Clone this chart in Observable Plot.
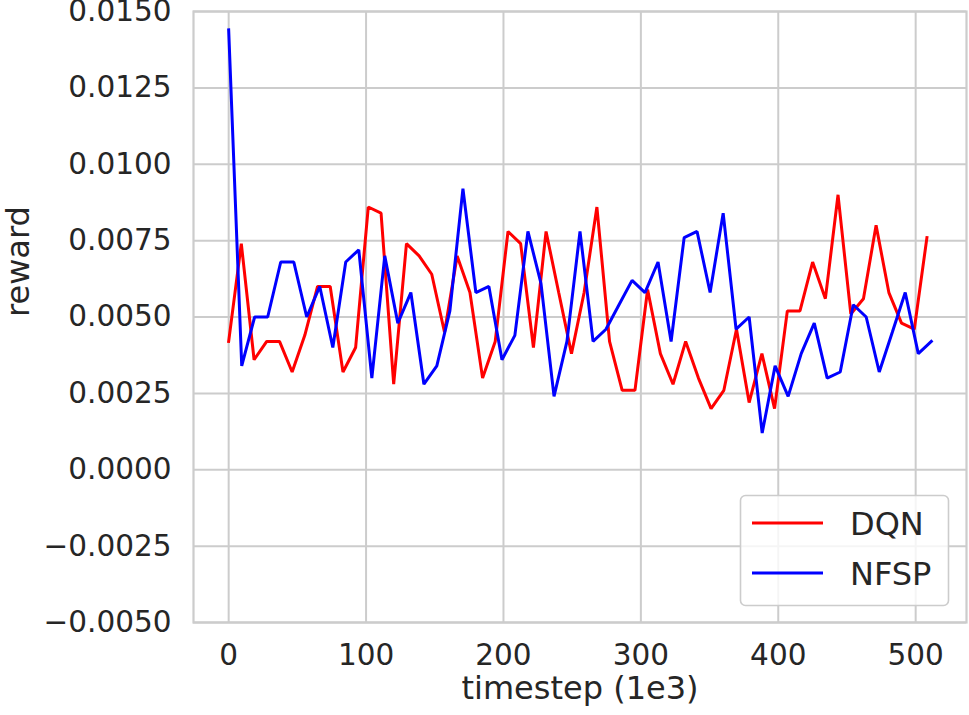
<!DOCTYPE html>
<html>
<head>
<meta charset="utf-8">
<script src="https://cdn.jsdelivr.net/npm/d3@7"></script>
<script src="https://cdn.jsdelivr.net/npm/@observablehq/plot@0.6"></script>
<style>
  html, body { margin: 0; padding: 0; background: white; }
  #chart { width: 969px; height: 715px; }
</style>
</head>
<body>
<div id="chart"></div>
<script>
// ---- data ----
const seriesNames = ["DQN", "NFSP"];
const seriesColors = ["#ff0000", "#0000ff"];

const dqnX = [0, 9.2, 18.5, 27.7, 37.0, 46.2, 55.4, 64.7, 73.9, 83.2, 92.4, 101.6, 110.9, 120.1, 129.4, 138.6, 147.8, 157.1, 166.3, 175.6, 184.8, 194.0, 203.3, 212.5, 221.8, 231.0, 240.2, 249.5, 258.7, 268.0, 277.2, 286.4, 295.7, 304.9, 314.2, 323.4, 332.6, 341.9, 351.1, 360.4, 369.6, 378.8, 388.1, 397.3, 406.6, 415.8, 425.0, 434.3, 443.5, 452.8, 462.0, 471.2, 480.5, 489.7, 499.0, 508.2];
const dqnY = [0.0042, 0.0074, 0.0036, 0.0042, 0.0042, 0.0032, 0.0044, 0.0060, 0.0060, 0.0032, 0.0040, 0.0086, 0.0084, 0.0028, 0.0074, 0.0070, 0.0064, 0.0045, 0.0070, 0.0058, 0.0030, 0.0042, 0.0078, 0.0074, 0.0040, 0.0078, 0.0058, 0.0038, 0.0058, 0.0086, 0.0042, 0.0026, 0.0026, 0.0059, 0.0038, 0.0028, 0.0042, 0.0030, 0.0020, 0.0026, 0.0046, 0.0022, 0.0038, 0.0020, 0.0052, 0.0052, 0.0068, 0.0056, 0.0090, 0.0051, 0.0056, 0.0080, 0.0058, 0.0048, 0.0046, 0.0076];

const nfspX = [0, 9.5, 18.9, 28.4, 37.9, 47.4, 56.8, 66.3, 75.8, 85.2, 94.7, 104.2, 113.6, 123.1, 132.6, 142.1, 151.5, 161.0, 170.5, 179.9, 189.4, 198.9, 208.3, 217.8, 227.3, 236.8, 246.2, 255.7, 265.2, 274.6, 284.1, 293.6, 303.0, 312.5, 322.0, 331.5, 340.9, 350.4, 359.9, 369.3, 378.8, 388.3, 397.7, 407.2, 416.7, 426.2, 435.6, 445.1, 454.6, 464.0, 473.5, 483.0, 492.4, 501.9, 511.4];
const nfspY = [0.0144, 0.0034, 0.0050, 0.0050, 0.0068, 0.0068, 0.0050, 0.0060, 0.0040, 0.0068, 0.0072, 0.0030, 0.0070, 0.0048, 0.0058, 0.0028, 0.0034, 0.0052, 0.0092, 0.0058, 0.0060, 0.0036, 0.0044, 0.0078, 0.0061, 0.0024, 0.0042, 0.0078, 0.0042, 0.0046, 0.0054, 0.0062, 0.0058, 0.0068, 0.0042, 0.0076, 0.0078, 0.0058, 0.0084, 0.0046, 0.0050, 0.0012, 0.0034, 0.0024, 0.0038, 0.0048, 0.0030, 0.0032, 0.0054, 0.0050, 0.0032, 0.0045, 0.0058, 0.0038, 0.0042];

const xTicks = [0, 100, 200, 300, 400, 500];
const yTicks = [-0.005, -0.0025, 0, 0.0025, 0.005, 0.0075, 0.01, 0.0125, 0.015];
const xLabel = "timestep (1e3)";
const yLabel = "reward";

// ---- build table ----
const rows = [
  ...dqnX.map((x, i) => ({series: "DQN", x, y: dqnY[i]})),
  ...nfspX.map((x, i) => ({series: "NFSP", x, y: nfspY[i]}))
];

const textColor = "#262626";
const gridColor = "#cccccc";
const fmtY = d => (d < 0 ? "\u2212" : "") + Math.abs(d).toFixed(4);

const chart = Plot.plot({
  width: 969,
  height: 715,
  marginLeft: 193,
  marginRight: 3,
  marginTop: 11,
  marginBottom: 93,
  style: {fontFamily: "'DejaVu Sans', sans-serif", fontSize: "29.5px", color: textColor, background: "white", overflow: "visible"},
  x: {domain: [-25.6, 537], ticks: xTicks, tickSize: 0, tickPadding: 22, label: null, tickFormat: d => String(d)},
  y: {domain: [-0.005, 0.015], ticks: yTicks, tickSize: 0, tickPadding: 22, label: null, tickFormat: fmtY},
  color: {domain: seriesNames, range: seriesColors},
  marks: [
    Plot.gridX(xTicks, {stroke: gridColor, strokeOpacity: 1, strokeWidth: 2}),
    Plot.gridY(yTicks, {stroke: gridColor, strokeOpacity: 1, strokeWidth: 2}),
    Plot.frame({stroke: gridColor, strokeWidth: 2.2}),
    Plot.line(rows, {x: "x", y: "y", z: "series", stroke: "series", strokeWidth: 3, strokeLinejoin: "miter", strokeLinecap: "square"}),
    Plot.text([yLabel], {frameAnchor: "left", dx: -175, rotate: -90, fontSize: 32, fill: textColor}),
    Plot.text([xLabel], {frameAnchor: "bottom", dy: 76, fontSize: 32, fill: textColor})
  ]
});

document.getElementById("chart").appendChild(chart);

// ---- legend (inside plot, lower right) ----
const svg = d3.select(chart.tagName.toLowerCase() === "svg" ? chart : chart.querySelector("svg"));
const lg = svg.append("g")
  .attr("font-family", "'DejaVu Sans', sans-serif")
  .attr("text-anchor", "start");
lg.append("rect")
  .attr("x", 740.5).attr("y", 495.5).attr("width", 208).attr("height", 110)
  .attr("rx", 5).attr("ry", 5)
  .attr("fill", "white").attr("fill-opacity", 0.8)
  .attr("stroke", gridColor).attr("stroke-width", 1.6);
seriesNames.forEach((name, i) => {
  const cy = 523 + i * 50;
  lg.append("line")
    .attr("x1", 752).attr("x2", 823).attr("y1", cy).attr("y2", cy)
    .attr("stroke", seriesColors[i]).attr("stroke-width", 3);
  lg.append("text")
    .attr("x", 850).attr("y", cy + 12)
    .attr("text-anchor", "start")
    .attr("font-size", 32).attr("fill", textColor)
    .text(name);
});
</script>
</body>
</html>
